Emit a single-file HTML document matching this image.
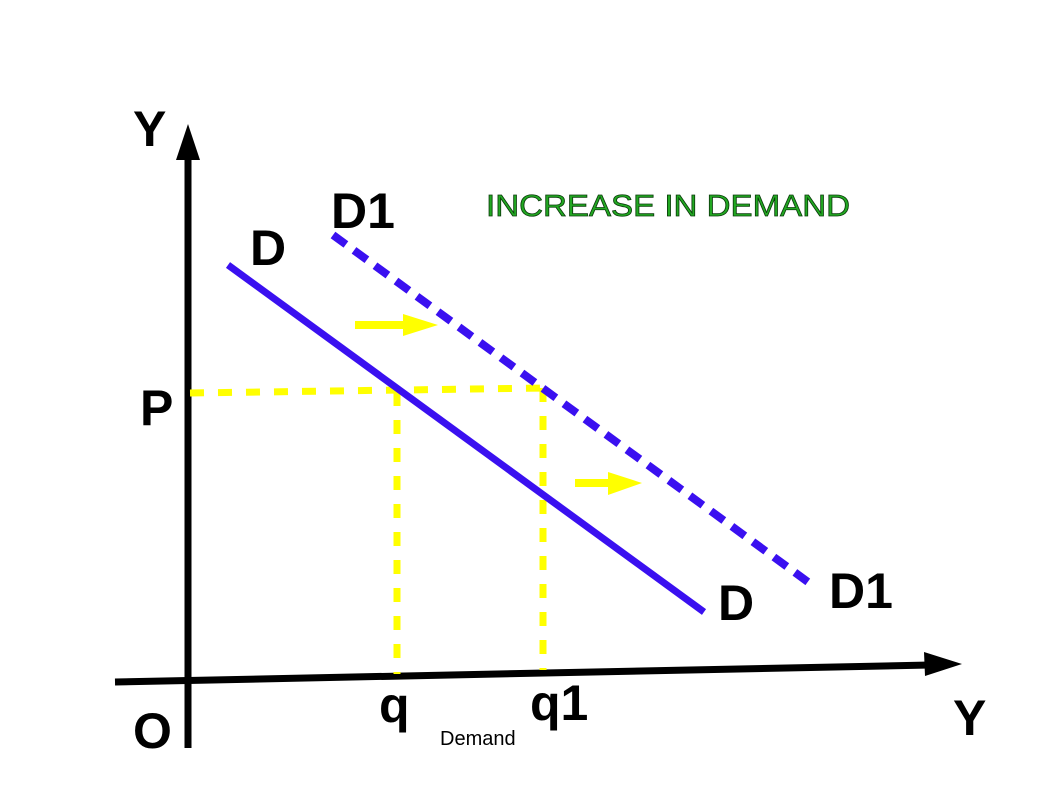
<!DOCTYPE html>
<html><head><meta charset="utf-8"><style>
html,body{margin:0;padding:0;background:#fff;}
svg{display:block;}
text{font-family:"Liberation Sans",sans-serif;}
</style></head><body>
<svg width="1058" height="794" viewBox="0 0 1058 794" xmlns="http://www.w3.org/2000/svg">
<rect width="1058" height="794" fill="#fff"/>
<line x1="188" y1="150" x2="188" y2="748" stroke="#000" stroke-width="7"/>
<polygon points="188,124 176,160 200,160" fill="#000"/>
<line x1="115" y1="682" x2="930" y2="665" stroke="#000" stroke-width="7"/>
<polygon points="962,664 924,652 925,676" fill="#000"/>
<g stroke="#ffff00" stroke-width="7" stroke-dasharray="14,14" fill="none">
<line x1="190" y1="393" x2="545" y2="388"/>
<line x1="397" y1="392" x2="397" y2="674"/>
<line x1="543" y1="388" x2="543" y2="670"/>
</g>
<line x1="228" y1="265" x2="704" y2="612" stroke="#3a10f0" stroke-width="7"/>
<line x1="333" y1="235" x2="808" y2="582" stroke="#3a10f0" stroke-width="8" stroke-dasharray="16,10"/>
<line x1="355" y1="325" x2="405" y2="325" stroke="#ffff00" stroke-width="8"/>
<polygon points="438,325 403,314 403,336" fill="#ffff00"/>
<line x1="575" y1="483" x2="610" y2="483" stroke="#ffff00" stroke-width="8"/>
<polygon points="642,483 608,472 608,495" fill="#ffff00"/>
<g font-weight="bold" fill="#000" font-size="50">
<text x="133" y="146">Y</text>
<text x="331" y="228">D1</text>
<text x="250" y="265">D</text>
<text x="140" y="425">P</text>
<text x="718" y="620">D</text>
<text x="829" y="608">D1</text>
<text x="133" y="748">O</text>
<text x="379" y="722">q</text>
<text x="530" y="720">q1</text>
<text x="953" y="735">Y</text>
</g>
<text x="440" y="745" font-size="20" fill="#000">Demand</text>
<text x="486" y="216" font-size="31" fill="#22a822" stroke="#0a3a0a" stroke-width="0.8" textLength="364" lengthAdjust="spacingAndGlyphs" font-family="'DejaVu Sans',sans-serif">INCREASE IN DEMAND</text>
</svg>
</body></html>
